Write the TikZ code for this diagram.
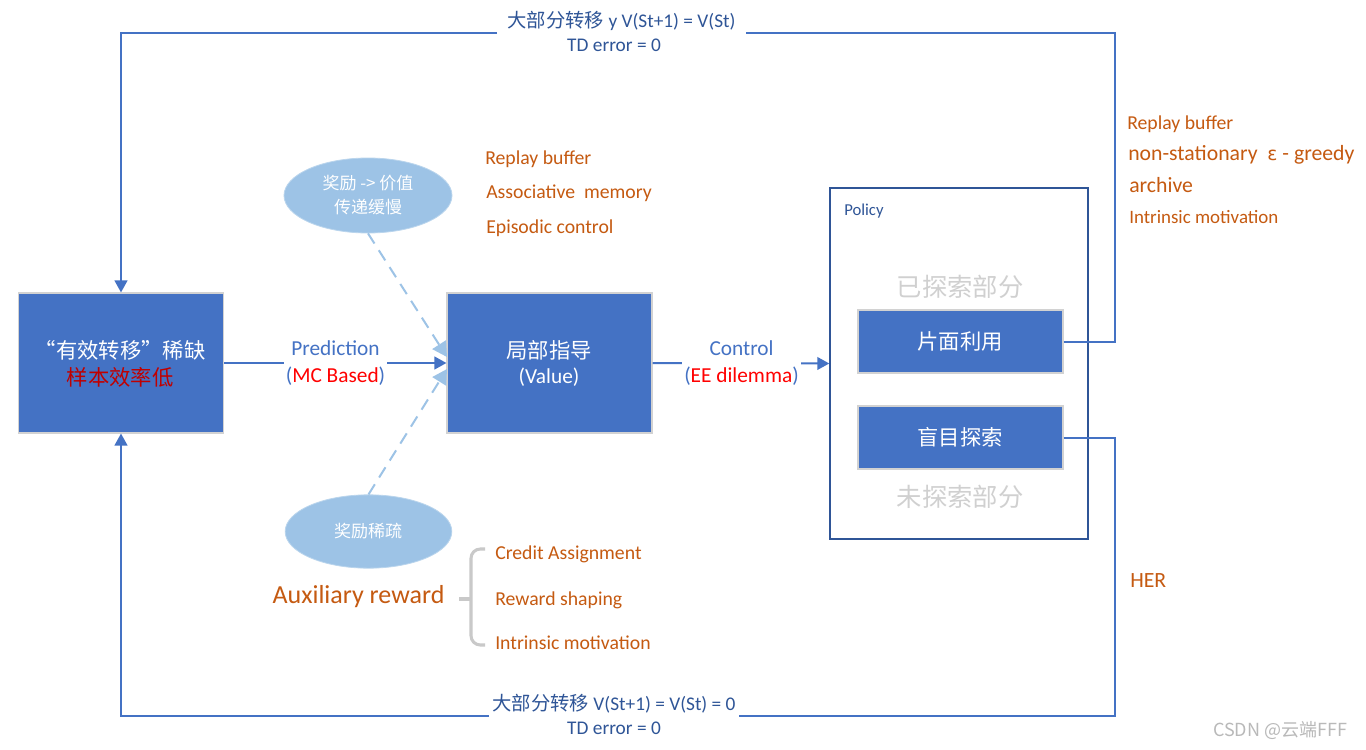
\documentclass[tikz,border=0pt]{standalone}
\usepackage{fontspec}
\setmainfont{Carlito}
\newfontfamily\cjk{Noto Sans CJK SC}
\newfontfamily\dv{DejaVu Sans}
\usetikzlibrary{arrows.meta,shapes.geometric}
\definecolor{bx}{HTML}{4472C4}
\definecolor{dkb}{HTML}{2F5597}
\definecolor{org}{HTML}{C55A11}
\definecolor{lb}{HTML}{9DC3E6}
\definecolor{dr}{HTML}{C00000}
\definecolor{rd}{HTML}{FF0000}
\definecolor{gtx}{HTML}{D0D0D0}
\definecolor{brc}{HTML}{C9C9C9}
\begin{document}
\begin{tikzpicture}[x=0.75pt,y=-0.75pt,
  bluebox/.style={draw=gray!35, line width=0.8pt, fill=bx, inner sep=0pt},
  wtxt/.style={text=white, inner sep=0pt, font=\fontsize{16}{19}\selectfont},
  conn/.style={draw=bx, line width=1.5pt},
  arr/.style={-{Triangle[length=9pt,width=9.5pt]}},
  larr/.style={draw=lb, line width=1.5pt, dash pattern=on 9pt off 6pt, -{Triangle[length=11pt,width=12pt]}},
  oval/.style={ellipse, fill=lb, draw=lb!70!white, line width=0.6pt, inner sep=0pt},
  otxt/.style={text=org, anchor=west, inner sep=0pt, font=\fontsize{14.8}{17}\selectfont},
  obig/.style={text=org, anchor=west, inner sep=0pt, font=\fontsize{16.3}{19}\selectfont},
  btxt/.style={text=dkb, inner sep=0pt, font=\fontsize{14.5}{17}\selectfont},
  lbl/.style={fill=white, align=center, inner xsep=1.5pt, inner ysep=1pt, text=bx, font=\fontsize{16}{20.25}\selectfont},
  gray text/.style={text=gtx, inner sep=0pt, font=\fontsize{19}{22}\selectfont\cjk}
]
\useasboundingbox (0,0) rectangle (1366,749);
\fill[white] (0,0) rectangle (1366,749);

% main boxes
\node[bluebox, minimum width=153.75pt, minimum height=105pt] (L) at (121,363) {};
\node[wtxt] (L1) at (120,350) {\cjk “有效转移”稀缺};
\node[wtxt, text=dr] (L2) at (120,377) {\cjk 样本效率低};

\node[bluebox, minimum width=153.75pt, minimum height=105pt] (M) at (549.5,363) {};
\node[wtxt] (M1) at (549,350) {\cjk 局部指导};
\node[wtxt] (M2) at (549,377) {(Value)};

% policy box
\node[draw=dkb, line width=1.1pt, fill=white, minimum width=193.5pt, minimum height=263.25pt, inner sep=0pt] (P) at (959,363.5) {};
\node[text=dkb, anchor=west, inner sep=0pt, font=\fontsize{12.5}{15}\selectfont] (Pl) at (844,211) {Policy};
\node[gray text] (g1) at (960,287) {已探索部分};
\node[gray text] (g2) at (960,497) {未探索部分};
\node[bluebox, minimum width=153.75pt, minimum height=47.25pt] (r1) at (960.5,341.5) {};
\node[wtxt] (r1t) at (960,341) {\cjk 片面利用};
\node[bluebox, minimum width=153.75pt, minimum height=47.25pt] (r2) at (960.5,437.5) {};
\node[wtxt] (r2t) at (960,437) {\cjk 盲目探索};

% ellipses
\node[oval, minimum width=126pt, minimum height=56.25pt] (e1) at (368,195.5) {};
\node[text=white, align=center, inner sep=0pt, font=\fontsize{12.75}{18}\selectfont\cjk] (e1t) at (368,195) {奖励 -> 价值\\传递缓慢};
\node[oval, minimum width=125pt, minimum height=55pt] (e2) at (368.5,531.5) {};
\node[text=white, inner sep=0pt, font=\fontsize{12.75}{15}\selectfont\cjk] (e2t) at (368,531) {奖励稀疏};

% dashed arrows
\coordinate (m1) at (447,357);
\coordinate (m2) at (447,369);
\draw[larr] (e1.south) -- (m1);
\draw[larr] (e2.north) -- (m2);

% Prediction / Control
\draw[conn, arr] (L.east) -- (M.west);
\node[lbl] (pl) at (335.5,363.5) {Prediction\\(\textcolor{rd}{MC Based})};
\draw[conn, arr] (M.east) -- (P.west);
\node[lbl] (cl) at (741.5,363.5) {Control\\(\textcolor{rd}{EE dilemma})};

% top loop
\coordinate (tr) at (1115,33);
\coordinate (tg2) at (746,33);
\coordinate (tg1) at (497,33);
\coordinate (tl) at (121,33);
\draw[conn] (r1.east) -| (tr) -- (tg2);
\draw[conn, arr] (tg1) -- (tl) -- (L.north);
\node[btxt] (top1) at (621.5,21) {{\cjk 大部分转移} y V(St+1) = V(St)};
\node[btxt] (top2) at (614,45) {TD error = 0};

% bottom loop
\coordinate (br) at (1115,716);
\coordinate (bg2) at (739,716);
\coordinate (bg1) at (489,716);
\coordinate (bl) at (121,716);
\draw[conn] (r2.east) -| (br) -- (bg2);
\draw[conn, arr] (bg1) -- (bl) -- (L.south);
\node[btxt] (bot1) at (614,704) {{\cjk 大部分转移} V(St+1) = V(St) = 0};
\node[btxt] (bot2) at (614,728) {TD error = 0};

% orange texts near ellipse
\node[otxt] (o1) at (485,159) {Replay buffer};
\node[otxt] (o2) at (486,193) {Associative~~memory};
\node[otxt] (o3) at (486,228) {Episodic control};

% right texts
\node[otxt] (rt1) at (1127,124) {Replay buffer};
\node[obig] (rt2) at (1128,155) {non-stationary~~{\dv\fontsize{14}{17}\selectfont ɛ} - greedy};
\node[obig] (rt3) at (1129,185) {archive};
\node[otxt, font=\fontsize{14.2}{17}\selectfont] (rt4) at (1129,217) {Intrinsic motivation};
\node[obig] (her) at (1130,581) {HER};

% auxiliary reward
\node[text=org, inner sep=0pt, font=\fontsize{19.5}{23}\selectfont] (aux) at (358.5,597) {Auxiliary reward};
\coordinate (bt) at (485,549);
\coordinate (bb) at (485,645);
\coordinate (bs) at (459,599);
\coordinate (bm) at (471,599);
\draw[brc, line width=2.3pt, rounded corners=7pt] (bt) -- (471,549) -- (471,645) -- (bb);
\draw[brc, line width=2.3pt] (bs) -- (bm);
\node[otxt] (a1) at (495,554) {Credit Assignment};
\node[otxt] (a2) at (495,600) {Reward shaping};
\node[otxt] (a3) at (495,643) {Intrinsic motivation};

% watermark
\node[text=gray!55, inner sep=0pt, font=\fontsize{13.5}{16}\selectfont\cjk] (wm) at (1280,731) {CSDN @云端FFF};
\end{tikzpicture}
\end{document}
